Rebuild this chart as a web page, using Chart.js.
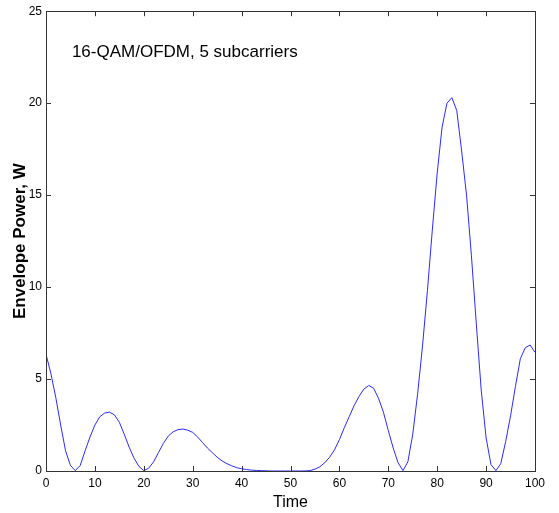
<!DOCTYPE html>
<html lang="en">
<head>
    <meta charset="UTF-8">
    <title>Envelope Power</title>
    <script src="https://cdn.jsdelivr.net/npm/chart.js"></script>
    <style>
        body {
            margin: 0;
            padding: 0;
            background: #fff;
        }
        .chart-wrapper {
            width: 559px;
            height: 513px;
        }
    </style>
</head>
<body>
    <div class="chart-wrapper">
        <canvas id="power-chart"></canvas>
    </div>

    <script>
        // Time samples and envelope power (W)
        const time = [
            0, 1, 2, 3, 4, 5, 6, 7, 8, 9,
            10, 11, 12, 13, 14, 15, 16, 17, 18, 19,
            20, 21, 22, 23, 24, 25, 26, 27, 28, 29,
            30, 31, 32, 33, 34, 35, 36, 37, 38, 39,
            40, 41, 42, 43, 44, 45, 46, 47, 48, 49,
            50, 51, 52, 53, 54, 55, 56, 57, 58, 59,
            60, 61, 62, 63, 64, 65, 66, 67, 68, 69,
            70, 71, 72, 73, 74, 75, 76, 77, 78, 79,
            80, 81, 82, 83, 84, 85, 86, 87, 88, 89,
            90, 91, 92, 93, 94, 95, 96, 97, 98, 99,
            100
        ];
        const power = [
            6.35, 5.3, 4.0, 2.5, 1.1, 0.3, 0.02, 0.3, 1.1, 1.85,
            2.5, 2.95, 3.15, 3.2, 3.05, 2.65, 2.0, 1.3, 0.7, 0.25,
            0.02, 0.15, 0.5, 1.0, 1.5, 1.9, 2.13, 2.25, 2.28, 2.22,
            2.1, 1.85, 1.55, 1.25, 1.0, 0.75, 0.55, 0.4, 0.28, 0.18,
            0.12, 0.08, 0.05, 0.03, 0.02, 0.01, 0, 0, 0, 0,
            0, 0, 0, 0.005, 0.02, 0.1, 0.23, 0.45, 0.75, 1.15,
            1.7, 2.35, 2.95, 3.55, 4.05, 4.45, 4.65, 4.5, 3.95, 3.2,
            2.2, 1.25, 0.45, 0.02, 0.5, 2.0, 4.2, 6.8, 9.8, 13.1,
            16.2, 18.7, 20.0, 20.3, 19.6, 17.4, 15.0, 11.7, 8.0, 4.4,
            1.8, 0.35, 0.02, 0.4, 1.6, 3.0, 4.6, 6.1, 6.7, 6.85,
            6.45
        ];
        const xTicks = [0, 10, 20, 30, 40, 50, 60, 70, 80, 90, 100];
        const yTicks = [0, 5, 10, 15, 20, 25];
        const label = '16-QAM/OFDM, 5 subcarriers';

        const axisColor = '#333';

        // MATLAB style box with inward ticks on all four sides, plus the text label
        const boxPlugin = {
            id: 'box',
            afterDraw(chart) {
                const ctx = chart.ctx;
                const a = chart.chartArea;
                const xs = chart.scales.x;
                const ys = chart.scales.y;
                ctx.save();
                ctx.strokeStyle = axisColor;
                ctx.lineWidth = 1;
                ctx.strokeRect(Math.round(a.left) + 0.5, Math.round(a.top) + 0.5,
                    Math.round(a.right - a.left), Math.round(a.bottom - a.top));
                ctx.beginPath();
                xTicks.forEach(v => {
                    const px = Math.round(xs.getPixelForValue(v)) + 0.5;
                    ctx.moveTo(px, a.bottom);
                    ctx.lineTo(px, a.bottom - 5);
                    ctx.moveTo(px, a.top);
                    ctx.lineTo(px, a.top + 5);
                });
                yTicks.forEach(v => {
                    const py = Math.round(ys.getPixelForValue(v)) + 0.5;
                    ctx.moveTo(a.left, py);
                    ctx.lineTo(a.left + 5, py);
                    ctx.moveTo(a.right, py);
                    ctx.lineTo(a.right - 5, py);
                });
                ctx.stroke();

                ctx.fillStyle = '#000';
                ctx.font = '17px "Liberation Sans", Arial, sans-serif';
                ctx.textBaseline = 'alphabetic';
                ctx.fillText(label, xs.getPixelForValue(5.3), ys.getPixelForValue(22.5));
                ctx.restore();
            }
        };

        const ctx = document.getElementById('power-chart').getContext('2d');
        const chart = new Chart(ctx, {
            type: 'line',
            data: {
                datasets: [{
                    data: time.map((t, i) => ({ x: t, y: power[i] })),
                    borderColor: '#2a2aff',
                    borderWidth: 1,
                    pointRadius: 0,
                    tension: 0,
                    fill: false,
                }],
            },
            options: {
                responsive: true,
                maintainAspectRatio: false,
                animation: false,
                layout: {
                    padding: { left: 0, top: 9, right: 24, bottom: 0 },
                },
                plugins: {
                    legend: { display: false },
                    tooltip: { enabled: false },
                },
                scales: {
                    x: {
                        type: 'linear',
                        min: 0,
                        max: 100,
                        afterBuildTicks: scale => { scale.ticks = xTicks.map(v => ({ value: v })); },
                        afterFit: scale => { scale.height = 42; },
                        grid: { display: false, drawTicks: false },
                        border: { display: false },
                        ticks: {
                            color: '#000',
                            padding: 5,
                            maxRotation: 0,
                            font: { family: '"Liberation Sans", Arial, sans-serif', size: 12 },
                        },
                        title: {
                            display: true,
                            text: 'Time',
                            color: '#000',
                            padding: { top: 0, bottom: 1 },
                            font: { family: '"Liberation Sans", Arial, sans-serif', size: 16 },
                        },
                    },
                    y: {
                        min: 0,
                        max: 25,
                        afterBuildTicks: scale => { scale.ticks = yTicks.map(v => ({ value: v })); },
                        afterFit: scale => { scale.width = 46; },
                        grid: { display: false, drawTicks: false },
                        border: { display: false },
                        ticks: {
                            color: '#000',
                            padding: 4,
                            font: { family: '"Liberation Sans", Arial, sans-serif', size: 12 },
                        },
                        title: {
                            display: true,
                            text: 'Envelope Power, W',
                            color: '#000',
                            padding: { top: 10, bottom: 0 },
                            font: { family: '"Liberation Sans", Arial, sans-serif', size: 17, weight: 'bold' },
                        },
                    },
                },
            },
            plugins: [boxPlugin],
        });
    </script>
</body>
</html>
